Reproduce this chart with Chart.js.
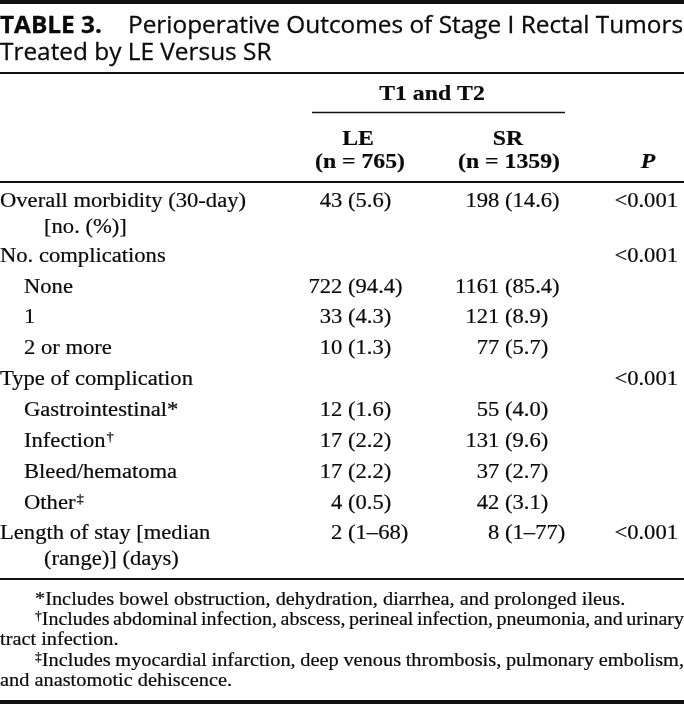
<!DOCTYPE html>
<html>
<head>
<meta charset="utf-8">
<script src="https://cdn.jsdelivr.net/npm/chart.js@4.4.1/dist/chart.umd.min.js"></script>
<style>
  html, body { margin: 0; padding: 0; background: #ffffff; }
  #wrap { width: 684px; height: 709px; position: relative; }
  canvas { display: block; }
</style>
</head>
<body>
<div id="wrap"><canvas id="c" width="684" height="709"></canvas></div>
<script>
// ---------------- DATA ----------------
const tableNumber = "TABLE 3.";
const titleLines = ["Perioperative Outcomes of Stage I Rectal Tumors", "Treated by LE Versus SR"];
const groupHeader = "T1 and T2";
const columnNames = ["LE", "SR"];
const columnCounts = ["(n = 765)", "(n = 1359)"];
const pHeader = "P";

const rowLabels = [
  ["Overall morbidity (30-day)", "[no. (%)]"],
  ["No. complications"],
  ["None"],
  ["1"],
  ["2 or more"],
  ["Type of complication"],
  ["Gastrointestinal*"],
  ["Infection†"],
  ["Bleed/hematoma"],
  ["Other‡"],
  ["Length of stay [median", "(range)] (days)"]
];
const rowLevel = [0, 0, 1, 1, 1, 0, 1, 1, 1, 1, 0];
const leValues = ["43 (5.6)", "", "722 (94.4)", "33 (4.3)", "10 (1.3)", "", "12 (1.6)", "17 (2.2)", "17 (2.2)", "4 (0.5)", "2 (1–68)"];
const srValues = ["198 (14.6)", "", "1161 (85.4)", "121 (8.9)", "77 (5.7)", "", "55 (4.0)", "131 (9.6)", "37 (2.7)", "42 (3.1)", "8 (1–77)"];
const pValues  = ["<0.001", "<0.001", "", "", "", "<0.001", "", "", "", "", "<0.001"];

const footnotes = [
  ["*", "Includes bowel obstruction, dehydration, diarrhea, and prolonged ileus."],
  ["†", "Includes abdominal infection, abscess, perineal infection, pneumonia, and urinary", "tract infection."],
  ["‡", "Includes myocardial infarction, deep venous thrombosis, pulmonary embolism,", "and anastomotic dehiscence."]
];

// ---------------- LAYOUT ----------------
const W = 684, H = 709;
const SERIF = '"Liberation Serif", "Times New Roman", serif';
const SANS = '"Open Sans", "Liberation Sans", sans-serif';
const SX = 1.13;              // horizontal stretch of the scanned table text
const BODY = 20, FOOT = 18, HEAD = 21;
const INK = '#0a0a0a';
const BOLDEN = 0.2;
const ROW_Y = [207, 262, 293, 323, 354, 385, 416, 447, 478, 509, 539];
const CONT_DY = 26;
const COL = { label: 0, indent: 24, cont: 44, le: 348, sr: 505, p: 678 };
const FOOT_Y = [605, 625, 645, 666, 686];
const FOOT_INDENT = 35;

// ---------------- DRAW HELPERS ----------------
function txt(ctx, s, x, y, font, align, sx, bolden) {
  ctx.save();
  ctx.font = font;
  ctx.textAlign = 'left';
  ctx.textBaseline = 'alphabetic';
  const w = ctx.measureText(s).width * sx;
  const x0 = align === 'left' ? x : (align === 'right' ? x - w : x - w / 2);
  ctx.translate(x0, y);
  ctx.scale(sx, 1);
  ctx.fillStyle = INK;
  ctx.fillText(s, 0, 0);
  const lw = bolden === undefined ? BOLDEN : bolden;
  if (lw > 0) { ctx.strokeStyle = INK; ctx.lineWidth = lw; ctx.strokeText(s, 0, 0); }
  ctx.restore();
  return w;
}
function width(ctx, s, font, sx) { ctx.save(); ctx.font = font; const w = ctx.measureText(s).width * sx; ctx.restore(); return w; }

function labelWithMark(ctx, s, x, y) {
  const last = s.slice(-1);
  if (last === '†' || last === '‡') {
    const base = s.slice(0, -1);
    const w = txt(ctx, base, x, y, BODY + 'px ' + SERIF, 'left', SX);
    txt(ctx, last, x + w + 1, y - 6, '13px ' + SERIF, 'left', SX);
  } else {
    txt(ctx, s, x, y, BODY + 'px ' + SERIF, 'left', SX);
  }
}

function parenAligned(ctx, s, xAnchor, y) {
  const i = s.indexOf('(');
  const font = BODY + 'px ' + SERIF;
  if (i < 0) { txt(ctx, s, xAnchor, y, font, 'center', SX); return; }
  txt(ctx, s.slice(0, i), xAnchor, y, font, 'right', SX);
  txt(ctx, s.slice(i), xAnchor, y, font, 'left', SX);
}

function justified(ctx, s, x0, x1, y, font, sx) {
  const words = s.split(' ');
  let ws = words.map(w => width(ctx, w, font, sx));
  let total = ws.reduce((a, b) => a + b, 0);
  const minGap = 3.5;
  let lsx = sx;
  if (total + minGap * (words.length - 1) > x1 - x0) {
    const f = (x1 - x0 - minGap * (words.length - 1)) / total;
    lsx = sx * f;
    ws = ws.map(w => w * f);
    total *= f;
  }
  const gap = (x1 - x0 - total) / (words.length - 1);
  let x = x0;
  words.forEach((w, k) => { txt(ctx, w, x, y, font, 'left', lsx); x += ws[k] + gap; });
}

function hline(ctx, xs, x0, x1, y, lw) {
  ctx.save();
  ctx.strokeStyle = '#111';
  ctx.lineWidth = lw;
  ctx.beginPath();
  ctx.moveTo(xs.getPixelForValue(x0), y);
  ctx.lineTo(xs.getPixelForValue(x1), y);
  ctx.stroke();
  ctx.restore();
}

// ---------------- TABLE PLUGIN ----------------
const tablePlugin = {
  id: 'tableText',
  afterDatasetsDraw(chart) {
    const ctx = chart.ctx;
    const xs = chart.scales.x, ys = chart.scales.y;
    const py = v => ys.getPixelForValue(v);

    // rules
    hline(ctx, xs, 0, W, py(2), 4);
    hline(ctx, xs, 0, W, py(73), 2);
    hline(ctx, xs, 312, 565, py(112.5), 1.6);
    hline(ctx, xs, 0, W, py(182), 2);
    hline(ctx, xs, 0, W, py(579), 2);
    hline(ctx, xs, 0, W, py(702), 4);

    // title
    const tFontB = 'bold 24px ' + SANS, tFont = '24px ' + SANS;
    const natural = width(ctx, titleLines[0], tFont, 1);
    const tsx = (683 - 128) / natural;
    txt(ctx, tableNumber, 0, py(33), tFontB, 'left', tsx, 0.3);
    txt(ctx, titleLines[0], 128, py(33), tFont, 'left', tsx, 0.3);
    txt(ctx, titleLines[1], 0, py(60), tFont, 'left', tsx, 0.3);

    // header
    const hb = 'bold ' + HEAD + 'px ' + SERIF;
    txt(ctx, groupHeader, 432, py(100), hb, 'center', SX);
    txt(ctx, columnNames[0], 358, py(145), hb, 'center', SX);
    txt(ctx, columnCounts[0], 360, py(168), hb, 'center', SX);
    txt(ctx, columnNames[1], 508, py(145), hb, 'center', SX);
    txt(ctx, columnCounts[1], 509, py(168), hb, 'center', SX);
    txt(ctx, pHeader, 648, py(168), 'italic bold ' + HEAD + 'px ' + SERIF, 'center', SX);

    // body labels
    rowLabels.forEach((lines, i) => {
      const x = rowLevel[i] ? COL.indent : COL.label;
      labelWithMark(ctx, lines[0], xs.getPixelForValue(x), py(ROW_Y[i]));
      if (lines[1]) txt(ctx, lines[1], xs.getPixelForValue(COL.cont), py(ROW_Y[i] + CONT_DY), BODY + 'px ' + SERIF, 'left', SX);
    });

    // value cells from dataset elements
    chart.data.datasets.forEach((ds, d) => {
      const meta = chart.getDatasetMeta(d);
      meta.data.forEach((el, k) => {
        const s = ds.cellText[k];
        if (!s) return;
        if (ds.align === 'paren') parenAligned(ctx, s, el.x, el.y);
        else txt(ctx, s, el.x, el.y, BODY + 'px ' + SERIF, 'right', SX);
      });
    });

    // footnotes
    const ff = FOOT + 'px ' + SERIF;
    let line = 0;
    footnotes.forEach(fn => {
      const y = py(FOOT_Y[line]);
      const mark = fn[0];
      let mx = FOOT_INDENT;
      if (mark === '*') {
        mx += txt(ctx, mark, FOOT_INDENT, y, ff, 'left', SX);
      } else {
        mx += txt(ctx, mark, FOOT_INDENT, y - 5, '12px ' + SERIF, 'left', SX);
      }
      if (fn.length > 2) justified(ctx, fn[1], mx, W, y, ff, SX);
      else txt(ctx, fn[1], mx, y, ff, 'left', SX);
      line++;
      for (let j = 2; j < fn.length; j++) {
        txt(ctx, fn[j], 0, py(FOOT_Y[line]), ff, 'left', SX);
        line++;
      }
    });
  }
};

function cells(values, colX) {
  return values.map((v, i) => ({ x: colX, y: ROW_Y[i] }));
}

new Chart(document.getElementById('c'), {
  type: 'scatter',
  data: {
    datasets: [
      { label: 'LE', data: cells(leValues, COL.le), cellText: leValues, align: 'paren', pointRadius: 0, pointHoverRadius: 0 },
      { label: 'SR', data: cells(srValues, COL.sr), cellText: srValues, align: 'paren', pointRadius: 0, pointHoverRadius: 0 },
      { label: 'P',  data: cells(pValues, COL.p),  cellText: pValues,  align: 'right', pointRadius: 0, pointHoverRadius: 0 }
    ]
  },
  options: {
    responsive: false,
    animation: false,
    events: [],
    layout: { padding: 0 },
    plugins: { legend: { display: false }, title: { display: false }, tooltip: { enabled: false } },
    scales: {
      x: { type: 'linear', min: 0, max: W, display: false },
      y: { type: 'linear', min: 0, max: H, reverse: true, display: false }
    }
  },
  plugins: [tablePlugin]
});
</script>
</body>
</html>
